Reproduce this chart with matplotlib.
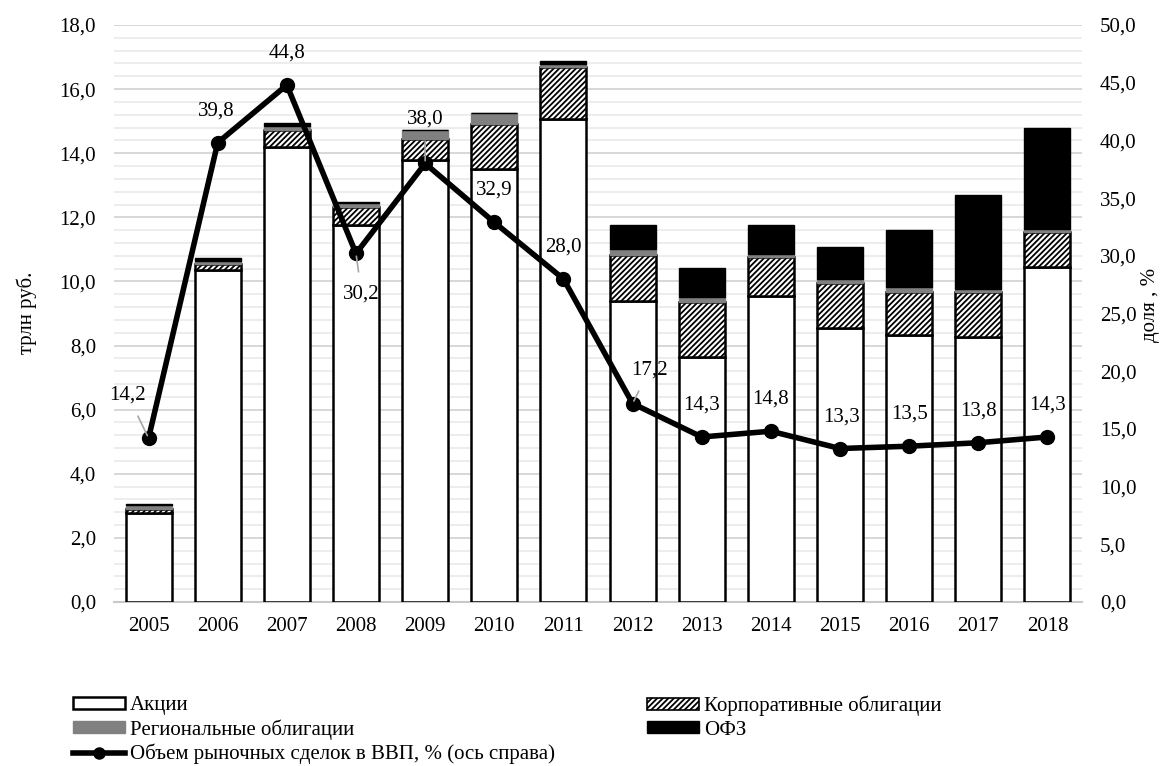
import matplotlib
matplotlib.use('Agg')
from matplotlib import pyplot as plt
from matplotlib.ticker import FuncFormatter, MultipleLocator
from matplotlib.patches import Patch
from matplotlib.lines import Line2D
import numpy as np

years = ['2005', '2006', '2007', '2008', '2009', '2010', '2011',
         '2012', '2013', '2014', '2015', '2016', '2017', '2018']
shares = [2.78, 10.35, 14.20, 11.75, 13.80, 13.50, 15.07,
          9.40, 7.65, 9.55, 8.55, 8.33, 8.27, 10.46]
corp_bonds = [0.12, 0.20, 0.53, 0.57, 0.64, 1.40, 1.62,
              1.44, 1.72, 1.21, 1.40, 1.34, 1.40, 1.09]
region_bonds = [0.12, 0.10, 0.13, 0.13, 0.28, 0.34, 0.10,
                0.16, 0.13, 0.10, 0.14, 0.15, 0.10, 0.09]
ofz = [0.05, 0.07, 0.08, 0.02, 0.00, 0.00, 0.08,
       0.75, 0.93, 0.90, 0.97, 1.78, 2.93, 3.14]
gdp_share = [14.2, 39.8, 44.8, 30.2, 38.0, 32.9, 28.0,
             17.2, 14.3, 14.8, 13.3, 13.5, 13.8, 14.3]

plt.rcParams['font.family'] = ['Liberation Serif', 'DejaVu Serif']
plt.rcParams['hatch.linewidth'] = 1.3

FS = 15
W, H = 1169, 766
fig = plt.figure(figsize=(W / 100, H / 100), dpi=100)
ax = fig.add_axes([114 / W, 1 - 602 / H, 968 / W, 577 / H])

ind = np.arange(len(years))
width = 0.667
s = np.array(shares)
c = np.array(corp_bonds)
r = np.array(region_bonds)
o = np.array(ofz)

ax.bar(ind, s, width, color='white', edgecolor='black', linewidth=1.8, zorder=3)
ax.bar(ind, c, width, bottom=s, color='white', edgecolor='black',
       hatch='//////', linewidth=1.8, zorder=3)
ax.bar(ind, r, width, bottom=s + c, color='#808080', edgecolor='#808080',
       linewidth=1.0, zorder=3)
ax.bar(ind, o, width, bottom=s + c + r, color='black', edgecolor='black',
       linewidth=1.0, zorder=3)

ax.set_xlim(-0.5, len(years) - 0.5)
ax.set_ylim(0, 18)
ax.yaxis.set_major_locator(MultipleLocator(2))
ax.yaxis.set_minor_locator(MultipleLocator(0.4))
fmt = FuncFormatter(lambda v, p: f'{v:.1f}'.replace('.', ','))
ax.yaxis.set_major_formatter(fmt)
ax.grid(axis='y', which='major', color='#d4d4d4', linewidth=1.3, zorder=0)
ax.grid(axis='y', which='minor', color='#ececec', linewidth=1.3, zorder=0)
ax.set_axisbelow(True)
for sp in ['top', 'left', 'right']:
    ax.spines[sp].set_visible(False)
ax.spines['bottom'].set_color('#c8c8c8')
ax.spines['bottom'].set_linewidth(1.5)
ax.set_xticks(ind)
ax.set_xticklabels(years)
ax.tick_params(axis='both', which='both', length=0, labelsize=FS)
ax.tick_params(axis='x', pad=11)
ax.tick_params(axis='y', pad=13)

ax2 = ax.twinx()
ax2.set_ylim(0, 50)
ax2.yaxis.set_major_locator(MultipleLocator(5))
ax2.yaxis.set_major_formatter(fmt)
ax2.tick_params(axis='y', length=0, labelsize=FS, pad=13)
for sp in ax2.spines.values():
    sp.set_visible(False)
ax2.plot(ind, gdp_share, color='black', linewidth=4, marker='o',
         markersize=10, zorder=5)

# label offsets (points) for each point of the line; leader line where needed
offsets = [(-15, 31, True), (-1, 23, False), (0, 23, False), (4, -29, True),
           (0, 32, True), (0, 23, False), (0, 23, False), (12, 24, True),
           (0, 23, False), (0, 23, False), (1, 23, False), (0, 23, False),
           (0, 23, False), (0, 23, False)]
for i, v in enumerate(gdp_share):
    dx, dy, lead = offsets[i]
    txt = f'{v:.1f}'.replace('.', ',')
    arrow = None
    if lead:
        arrow = dict(arrowstyle='-', color='#a6a6a6', lw=1.2, shrinkA=7, shrinkB=2)
    ax2.annotate(txt, (ind[i], v), xytext=(dx, dy), textcoords='offset points',
                 ha='center', va='center', fontsize=FS, zorder=6, arrowprops=arrow)

fig.text(27 / W, 1 - 313 / H, 'трлн руб.', rotation=90, ha='center', va='center', fontsize=FS)
fig.text(1150 / W, 1 - 305 / H, 'доля , %', rotation=90, ha='center', va='center', fontsize=FS)

h_shares = Patch(facecolor='white', edgecolor='black', linewidth=1.8)
h_corp = Patch(facecolor='white', edgecolor='black', hatch='//////', linewidth=1.2)
h_reg = Patch(facecolor='#808080', edgecolor='#808080')
h_ofz = Patch(facecolor='black', edgecolor='black')
h_line = Line2D([], [], color='black', linewidth=4, marker='o', markersize=8)

leg_kw = dict(loc='upper left', frameon=False, fontsize=FS, borderpad=0,
              borderaxespad=0, handlelength=2.5, handleheight=0.5,
              handletextpad=0.25, labelspacing=0.2)
fig.legend([h_shares, h_reg, h_line],
           ['Акции', 'Региональные облигации', 'Объем рыночных сделок в ВВП, % (ось справа)'],
           bbox_to_anchor=(73 / W, 1 - 696 / H), **leg_kw)
fig.legend([h_corp, h_ofz], ['Корпоративные облигации', 'ОФЗ'],
           bbox_to_anchor=(647 / W, 1 - 696 / H), **leg_kw)

fig.savefig('out.png', dpi=100)
